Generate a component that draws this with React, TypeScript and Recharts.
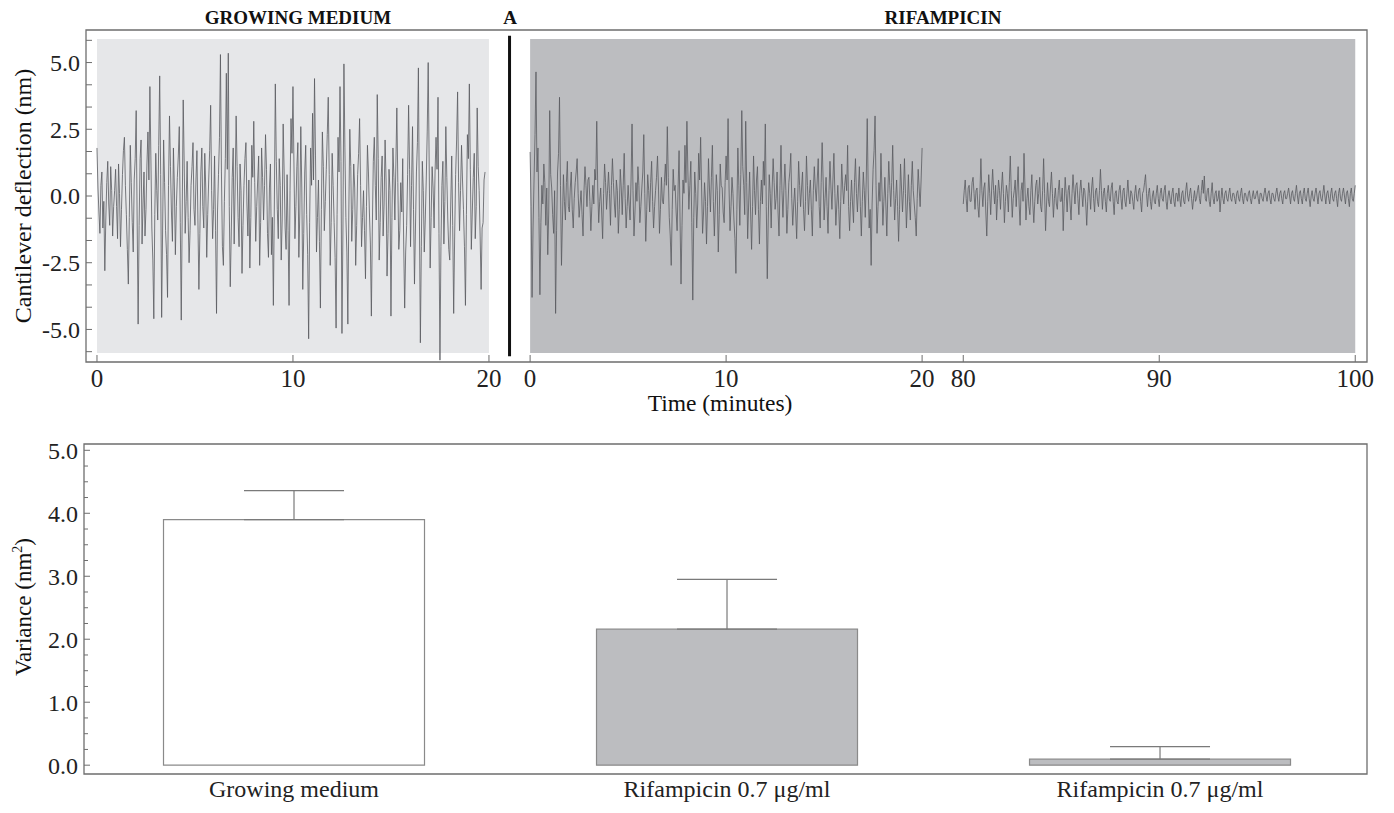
import React from 'react';
import {
  LineChart,
  Line,
  XAxis,
  YAxis,
  ReferenceArea,
  ReferenceLine,
  BarChart,
  Bar,
  Cell,
  ErrorBar,
} from 'recharts';

// minutes between two samples of the cantilever traces
const SAMPLE_STEP = 0.05;

// cantilever deflection (nm), growing medium, 0 - 19.8 min
const growingMedium = [
  1.8, 0.3, -0.6, -1.4, 0.4, 0.9, -1.2, -0.2, -2.8, -0.9, 0.5, 1.3, -0.3, -1.1, 1.1, 0.2, -1.5, -0.4, 0.2, 1.0,
  -0.4, -1.6, 1.2, 0.1, -1.9, -0.5, 0.8, 1.7, 2.2, 0.4, -0.7, -2.0, -3.3, -0.8, 1.9, 0.5, -1.0, -2.1, 0.6, 1.4,
  3.2, -0.9, -4.8, -1.1, 1.4, 2.1, -1.8, -0.3, 0.9, -1.5, -0.5, 1.2, 2.4, 0.6, 4.1, 1.5, -1.2, -2.4, -4.6, -0.7,
  1.6, 0.2, -0.9, 1.9, 4.5, 0.8, -4.55, -1.2, 2.1, 0.5, -1.3, -2.2, -3.8, 0.4, 3.0, 1.1, -0.6, -1.7, 1.8, 0.3,
  -2.2, -0.4, 0.7, 1.5, 2.6, -1.0, -4.65, -0.6, 3.6, 1.2, -1.4, -0.2, 1.3, -0.8, -2.5, -1.3, 0.4, 1.1, 2.0, -0.5,
  -1.1, 0.6, 1.7, -0.9, -3.5, -1.4, 0.9, 1.8, -0.4, -1.2, 1.6, 0.3, -2.3, -0.7, 0.6, 1.7, 3.4, 0.2, -1.6, -0.5,
  1.5, -1.3, -4.4, -0.6, 0.8, 2.2, 5.3, 0.9, -1.9, -2.6, -0.2, 1.4, 4.6, 1.0, 5.35, -0.4, -3.4, -1.5, 0.7, 1.8,
  -1.8, 0.3, 3.0, 1.1, -0.8, -1.9, 1.2, 0.2, -2.9, -1.1, 0.4, 1.4, 2.0, -0.3, -1.5, 0.6, -2.7, -0.8, 1.9, 0.7,
  2.8, 0.5, -1.7, -0.4, 0.6, 1.5, -2.6, -1.0, 1.8, 0.7, -0.9, 0.4, 2.3, 1.0, -1.4, -2.3, 0.3, 1.2, -2.2, -0.8,
  -4.1, -0.3, 4.2, 1.3, -0.5, -1.6, 1.4, 0.4, -2.4, -0.9, 2.7, 0.9, -1.2, -2.0, 0.8, -1.3, -4.1, 0.2, 2.9, 1.6,
  4.1, 1.2, -1.6, -0.4, 1.1, 2.0, -2.3, -0.6, 2.6, 0.3, -3.5, -1.4, 0.9, 1.9, -0.7, -2.2, -5.35, -1.0, 1.8, 0.4,
  3.1, 0.6, 4.4, 1.5, -2.1, -0.8, 0.6, -1.7, -4.2, -0.5, 2.4, 1.1, -1.3, -0.2, 1.0, 2.3, 3.7, 0.8, -2.6, -1.0,
  1.6, 0.4, -1.0, -2.3, -4.95, -0.7, 2.2, 0.9, 4.1, 1.3, -5.15, -1.2, 4.95, 1.8, -0.8, -2.1, -4.8, -0.6, 2.5, 1.1,
  -1.7, -0.5, 1.2, 0.3, -2.6, -1.1, 0.8, 1.6, 2.9, 0.4, -1.9, -0.8, 0.2, -1.3, -3.1, -0.4, 1.9, 0.9, -0.6, -1.8,
  -4.5, -1.2, 1.3, 2.2, 0.4, -0.9, 3.8, 1.4, -2.4, -1.0, 0.7, 1.5, -1.5, -0.3, 2.1, 0.6, -3.0, -1.4, 1.0, 0.2,
  -4.5, -0.8, 1.8, 0.7, -0.9, 1.2, 3.3, 0.5, -2.0, -1.3, 0.5, -0.6, 1.4, -1.8, -4.2, -2.1, -1.1, 0.8, 3.4, 1.0,
  -1.9, 0.4, 2.6, -0.5, -3.3, -1.2, 0.9, 2.0, 4.8, -0.6, -5.5, -1.9, 1.3, 0.2, -2.1, -0.9, 0.6, 2.4, 5.0, 1.2,
  -2.7, -0.8, 1.1, 0.3, -1.2, 0.9, 2.2, 1.0, 3.7, -1.4, -6.15, -1.9, 0.4, 1.3, -1.8, -0.2, 2.6, 0.7, -0.9, -2.0,
  -2.4, -0.3, 1.5, -1.1, -4.4, -1.5, 0.8, 2.1, 3.9, 0.5, -1.3, 0.2, 1.9, 0.6, -0.5, -1.9, -4.1, -0.7, 2.3, 1.4,
  4.2, 1.0, -2.0, -0.6, 0.7, 1.6, -1.6, -0.4, 3.3, 1.1, 0.2, -1.5, -3.5, -1.2, -1.0, 0.6, 0.9,
];

// rifampicin, 0 - 20 min
const rifampicinEarly = [
  1.65, -0.4, -3.8, -1.2, 0.6, 2.3, 4.65, 0.9, 1.8, -0.8, -3.7, -1.0, 0.4, -0.3, 1.2, 0.5, -1.1, 0.3, -2.2, -0.6,
  3.2, 0.8, 0.3, -0.7, -1.4, 0.2, -4.4, -1.3, 0.9, 1.6, 3.7, 0.4, -2.6, -0.9, 0.8, -0.2, -0.9, 0.5, 1.3, -0.4,
  -0.6, 0.3, 0.9, -0.5, -1.2, -0.1, 0.5, 0.9, 1.4, 0.1, -0.8, -0.3, 0.2, -0.7, -1.5, 0.2, 1.1, 0.4, -0.4, 0.6,
  0.7, -0.2, -1.3, -0.4, 0.4, -0.3, 1.0, 0.6, 2.8, 0.3, -1.0, -0.2, 0.3, -0.6, -1.6, 0.1, 1.2, 0.5, -0.5, 0.2,
  0.9, 0.1, -1.1, 0.4, 1.4, 0.5, -0.3, -0.8, 0.6, 0.2, -1.4, -0.5, 1.0, 0.3, -0.7, 0.4, 1.6, -0.1, -1.2, -0.4,
  0.4, -0.3, -0.9, 0.6, 2.7, 0.2, -1.5, -0.6, 0.5, -0.2, 1.1, 0.4, -1.0, -0.4, 0.3, 0.9, 2.3, 0.1, -1.7, -0.5,
  0.8, 0.2, -0.6, 0.5, 1.3, -0.2, -1.2, -0.4, 0.2, 0.7, 1.5, 0.3, -1.4, -0.5, 0.7, -0.2, -0.3, 0.5, 1.2, 0.4,
  2.6, 0.7, -0.8, -1.5, -2.6, -0.5, 1.0, 0.2, 0.4, -0.6, -1.3, 0.3, 1.7, -0.9, -3.3, -1.1, 0.6, 0.1, 1.9, 0.5,
  2.8, 0.9, -0.5, 0.4, 1.3, -1.0, -3.9, -0.8, 0.9, 0.1, -1.2, -0.3, 1.6, 0.6, 2.2, 0.3, -1.4, -0.6, 0.5, -0.2,
  -1.8, -0.4, 1.4, 0.3, -0.6, 0.7, 1.9, -0.2, -1.5, -0.3, 0.8, 0.2, -2.1, -0.7, 1.2, 0.4, 0.3, -0.6, -1.0, 0.5,
  1.5, 0.6, 2.9, 0.3, -1.3, -0.4, 0.7, 0.1, -0.9, -1.6, -2.9, -0.5, 1.8, 0.4, -1.1, 0.8, 3.2, 1.1, 0.4, -0.7,
  2.8, 0.5, -1.6, -0.3, 0.9, -0.6, -2.0, -0.4, 1.5, 0.2, -0.7, 0.6, 1.1, -0.5, -1.8, -0.2, 0.6, -0.3, 1.3, 0.4,
  2.7, -0.4, -3.1, -0.9, 0.8, 0.1, -1.2, 0.3, 1.4, 0.5, -0.5, -0.1, 0.9, -0.6, -1.5, 0.4, 1.9, 0.2, -0.8, 0.3,
  1.2, 0.2, -1.4, -0.5, 0.5, 0.9, 1.6, -0.1, -1.1, -0.3, 0.3, -0.6, -1.6, -0.2, 1.3, 0.4, -0.4, 0.3, 0.9, -0.5,
  -1.3, -0.2, 1.5, 0.4, -0.7, 0.1, 0.6, -0.5, -1.5, 0.2, 1.1, 0.3, -0.2, 0.6, 1.4, -0.4, -1.2, 0.5, 2.0, 0.6,
  -0.9, -0.1, 0.7, -0.4, -1.4, 0.2, 1.3, 0.3, -0.5, 0.6, 1.6, 0.1, -1.1, -0.3, 0.4, -0.5, -1.6, -0.2, 1.2, 0.3,
  -0.3, 0.4, 0.8, 0.2, 1.9, -0.4, -1.3, -0.2, 0.6, -0.3, -1.0, 0.5, 1.4, 0.1, -0.6, 0.3, 1.1, -0.4, -1.5, -0.2,
  0.9, 0.2, -0.8, 0.6, 2.9, 0.3, -1.2, -0.5, -2.6, -0.3, 1.0, 1.7, 3.0, 0.4, -1.4, -0.4, 0.5, -0.2, 1.6, 0.3,
  -1.1, -0.2, 0.7, -0.3, -1.5, 0.1, 1.3, 0.4, -0.4, 0.5, 1.9, 0.2, -0.9, -0.1, 0.6, -0.4, -1.7, -0.5, 1.2, 0.3,
  -0.6, 0.2, 1.4, 0.1, -1.2, -0.3, 0.8, -0.2, -0.9, 0.4, 1.3, 0.2, -0.3, -0.8, -1.5, -0.1, 1.0, 0.3, -0.4, 0.6, 1.8,
];

// rifampicin, 80 - 100 min
const rifampicinLate = [
  -0.3, 0.2, 0.6, -0.1, -0.6, 0.3, 0.4, -0.2, -0.2, 0.5, 0.7, 0.1, -0.5, 0.2, 0.3, -0.4, -0.8, 0.1, 1.4, 0.2,
  -0.4, 0.3, 0.5, -0.6, -1.5, -0.2, 0.8, 0.1, -0.7, 0.3, 1.0, 0.2, -0.3, 0.4, -0.9, -0.1, 0.6, 0.2, -0.5, 0.3,
  0.9, 0.1, -1.0, -0.2, 0.4, 0.1, -0.6, 0.5, 1.5, 0.2, -0.8, -0.1, 0.2, 0.6, -0.4, 0.3, 1.1, -0.3, -1.1, 0.2,
  0.5, -0.2, 1.6, 0.3, -0.9, -0.1, 0.3, -0.4, -0.7, 0.2, 0.8, -0.3, -1.0, -0.2, 0.4, 0.6, -0.3, 0.1, 0.7, -0.4,
  -0.6, 0.2, 1.4, 0.1, -1.3, -0.3, 0.5, -0.2, -0.4, 0.3, 0.9, 0.1, -0.8, -0.1, 0.3, -0.3, -0.5, 0.2, 0.6, -0.2,
  -0.2, 0.3, -1.3, -0.2, 0.7, 0.1, -0.6, 0.2, 0.4, -0.3, -0.9, 0.1, 0.8, 0.2, -0.3, 0.4, 0.5, -0.1, -0.7, 0.2,
  0.6, 0.1, -0.4, 0.3, 0.2, -0.3, -1.1, -0.2, 0.5, 0.1, -0.5, 0.3, 0.7, -0.1, -0.6, 0.2, 0.3, -0.2, -0.4, 0.2,
  1.0, 0.2, -0.5, 0.1, 0.3, -0.2, -0.6, 0.1, 0.4, -0.1, -0.2, 0.3, 0.5, -0.2, -0.7, 0.1, 0.2, -0.2, -0.3, 0.2,
  0.4, -0.1, -0.5, 0.2, 0.3, -0.2, -0.4, 0.1, 0.6, 0.0, -0.3, 0.2, 0.1, -0.2, -0.5, 0.1, 0.4, -0.1, -0.2, 0.2,
  0.3, -0.2, -0.6, 0.1, 0.2, 0.5, 0.8, 0.1, -0.4, 0.1, 0.3, -0.2, -0.5, 0.0, 0.2, -0.2, -0.3, 0.1, 0.4, -0.1,
  -0.4, 0.1, 0.3, -0.1, -0.2, 0.2, 0.4, -0.2, -0.5, 0.0, 0.2, -0.1, -0.3, 0.1, 0.3, -0.2, -0.4, 0.1, 0.1, -0.2,
  0.3, -0.1, -0.4, 0.1, 0.2, -0.2, -0.3, 0.2, 0.5, 0.0, -0.2, 0.1, 0.3, -0.1, -0.5, -0.1, 0.2, -0.2, -0.1, 0.2,
  0.4, -0.1, -0.3, 0.2, 0.6, 0.1, 0.75, -0.1, -0.2, 0.2, 0.3, -0.2, -0.4, 0.1, 0.5, -0.1, -0.3, 0.1, 0.2, -0.2,
  -0.1, 0.2, -0.6, -0.1, 0.3, -0.1, -0.3, 0.1, 0.2, -0.1, -0.2, 0.1, 0.3, -0.1, -0.2, 0.1, 0.1, -0.1, -0.3, 0.1,
  0.2, -0.1, -0.2, 0.1, 0.3, -0.1, -0.3, 0.1, 0.1, -0.1, -0.2, 0.1, 0.2, -0.1, -0.3, 0.0, 0.2, -0.1, -0.1, 0.1,
  0.2, -0.1, -0.3, 0.1, 0.1, -0.1, -0.2, 0.1, 0.3, 0.0, -0.2, 0.1, 0.2, -0.1, -0.3, 0.1, 0.1, -0.1, -0.2, 0.1,
  0.3, 0.0, -0.2, 0.1, 0.2, -0.1, -0.3, 0.1, 0.2, -0.1, -0.1, 0.1, 0.3, 0.0, -0.3, 0.1, 0.2, -0.1, -0.2, 0.1,
  0.4, 0.0, -0.3, 0.1, 0.2, -0.1, -0.3, 0.1, 0.3, -0.1, -0.2, 0.1, 0.3, -0.1, -0.4, 0.0, 0.2, -0.1, -0.2, 0.1,
  0.3, 0.0, -0.3, 0.1, 0.2, -0.1, -0.2, 0.1, 0.4, 0.0, -0.3, 0.1, 0.2, -0.1, -0.3, 0.1, 0.3, -0.1, -0.2, 0.1,
  0.2, -0.1, -0.4, 0.1, 0.3, -0.1, -0.2, 0.1, 0.3, 0.0, -0.3, 0.1, 0.2, -0.1, -0.4, 0.1, 0.3, -0.1, -0.2, 0.1, 0.4,
];

const timeTickValues = [0, 10, 20];
const lateTickValues = [80, 90, 100];
const deflectionTicks = [
  -5.833, -5, -4.167, -3.333, -2.5, -1.667, -0.833, 0,
  0.833, 1.667, 2.5, 3.333, 4.167, 5, 5.833,
];

// bar panel
const categories = ['Growing medium', 'Rifampicin 0.7 μg/ml', 'Rifampicin 0.7 μg/ml'];
const variances = [3.9, 2.16, 0.095];
const varianceErrors = [0.46, 0.79, 0.2];
const varianceTicks = [
  0, 0.25, 0.5, 0.75, 1, 1.25, 1.5, 1.75, 2, 2.25, 2.5,
  2.75, 3, 3.25, 3.5, 3.75, 4, 4.25, 4.5, 4.75, 5,
];

// the three traces share one x scale, each segment shifted along it
const RIF_EARLY_X0 = 22.1;
const RIF_LATE_X0 = 44.2;
const X_DOMAIN: [number, number] = [-0.56, 64.8];
const Y_DOMAIN: [number, number] = [-6.22, 6.22];

const FONT = '"Liberation Serif", "Times New Roman", serif';
const TRACE = '#595a60';
const AXIS = '#6e6e6e';

const growingData = growingMedium.map((v, i) => ({ t: i * SAMPLE_STEP, v }));
const rifEarlyData = rifampicinEarly.map((v, i) => ({ t: RIF_EARLY_X0 + i * SAMPLE_STEP, v }));
const rifLateData = rifampicinLate.map((v, i) => ({ t: RIF_LATE_X0 + i * SAMPLE_STEP, v }));

const timeTicks = [
  ...timeTickValues,
  ...timeTickValues.map((t) => t + RIF_EARLY_X0),
  ...lateTickValues.map((t) => t - 80 + RIF_LATE_X0),
];
const timeTickLabels = [...timeTickValues, ...timeTickValues, ...lateTickValues].map(String);

const barData = categories.map((name, i) => ({
  pos: i,
  name,
  variance: variances[i],
  err: [0, varianceErrors[i]],
}));
const barFills = ['#ffffff', '#bcbdc0', '#bcbdc0'];

// decorative minor ticks along the top of the bar panel
const topTicks = Array.from({ length: 37 }, (_, i) => i + 0.362);

const TimeTick = (props: any) => {
  const { x, y, index } = props;
  return (
    <g>
      <line x1={x} y1={y} x2={x} y2={y - 7} stroke={AXIS} strokeWidth={1} />
      <text x={x} y={y + 25} textAnchor="middle" fontFamily={FONT} fontSize={25} fill="#222">
        {timeTickLabels[index]}
      </text>
    </g>
  );
};

const DeflectionTick = (props: any) => {
  const { x, y, payload } = props;
  const v = payload.value;
  const major = Math.abs(v / 2.5 - Math.round(v / 2.5)) < 1e-3;
  return (
    <g>
      <line x1={x} y1={y} x2={x + 6} y2={y} stroke={AXIS} strokeWidth={1} />
      {major && (
        <text x={x - 6} y={y} dy="0.35em" textAnchor="end" fontFamily={FONT} fontSize={24} fill="#222">
          {v.toFixed(1)}
        </text>
      )}
    </g>
  );
};

const VarianceTick = (props: any) => {
  const { x, y, payload } = props;
  const v = payload.value;
  const major = Math.abs(v - Math.round(v)) < 1e-3;
  return (
    <g>
      <line x1={x} y1={y} x2={x + (major ? 6 : 4)} y2={y} stroke={AXIS} strokeWidth={1} />
      {major && (
        <text x={x - 6} y={y} dy="0.35em" textAnchor="end" fontFamily={FONT} fontSize={24} fill="#222">
          {v.toFixed(1)}
        </text>
      )}
    </g>
  );
};

const RightTick = (props: any) => {
  const { x, y } = props;
  return <line x1={x} y1={y} x2={x - 5} y2={y} stroke={AXIS} strokeWidth={1} />;
};

const TopTick = (props: any) => {
  const { x, y } = props;
  return <line x1={x} y1={y} x2={x} y2={y + 4} stroke={AXIS} strokeWidth={1} />;
};

const CategoryTick = (props: any) => {
  const { x, y, index } = props;
  return (
    <text x={x} y={y + 23} textAnchor="middle" fontFamily={FONT} fontSize={24} fill="#222">
      {categories[index]}
    </text>
  );
};

const App = () => {
  return (
    <div
      style={{
        position: 'absolute',
        left: 0,
        top: 0,
        width: 1394,
        height: 813,
        background: '#fff',
        fontFamily: FONT,
      }}
    >
      <div style={{ position: 'absolute', left: 0, top: 0 }}>
        <LineChart width={1394} height={400} margin={{ top: 30, right: 27, left: 0, bottom: 0 }}>
          <XAxis
            dataKey="t"
            type="number"
            domain={X_DOMAIN}
            ticks={timeTicks}
            interval={0}
            tick={TimeTick}
            tickLine={false}
            axisLine={false}
            tickSize={0}
            tickMargin={0}
            height={38}
            allowDataOverflow
          />
          <YAxis
            type="number"
            domain={Y_DOMAIN}
            ticks={deflectionTicks}
            interval={0}
            tick={DeflectionTick}
            tickLine={false}
            axisLine={false}
            tickSize={0}
            tickMargin={0}
            width={86}
            allowDataOverflow
          />
          <ReferenceArea x1={0} x2={20} y1={-5.88} y2={5.88} fill="#e6e7e9" fillOpacity={1} stroke="none" />
          <ReferenceArea
            x1={RIF_EARLY_X0}
            x2={RIF_LATE_X0 + 20}
            y1={-5.88}
            y2={5.88}
            fill="#bcbdc0"
            fillOpacity={1}
            stroke="none"
          />
          <ReferenceLine
            segment={[
              { x: 21.05, y: -6.0 },
              { x: 21.05, y: 6.0 },
            ]}
            stroke="#111"
            strokeWidth={3}
          />
          <Line data={growingData} dataKey="v" type="linear" stroke={TRACE} strokeWidth={0.8} dot={false} isAnimationActive={false} />
          <Line data={rifEarlyData} dataKey="v" type="linear" stroke={TRACE} strokeWidth={0.8} dot={false} isAnimationActive={false} />
          <Line data={rifLateData} dataKey="v" type="linear" stroke={TRACE} strokeWidth={0.8} dot={false} isAnimationActive={false} />
          <ReferenceArea
            x1={X_DOMAIN[0]}
            x2={X_DOMAIN[1]}
            y1={Y_DOMAIN[0]}
            y2={Y_DOMAIN[1]}
            fill="none"
            stroke={AXIS}
            strokeWidth={1.3}
          />
        </LineChart>
      </div>

      <div style={{ position: 'absolute', left: 0, top: 400 }}>
        <BarChart width={1394} height={413} data={barData} margin={{ top: 44, right: 27, left: 0, bottom: 0 }}>
          <XAxis
            dataKey="pos"
            type="number"
            domain={[-0.485, 2.478]}
            ticks={[0, 1, 2]}
            interval={0}
            tick={CategoryTick}
            tickLine={false}
            axisLine={false}
            tickSize={0}
            tickMargin={0}
            height={39}
            allowDataOverflow
          />
          <XAxis
            xAxisId="top"
            orientation="top"
            type="number"
            domain={[0, 36.594]}
            ticks={topTicks}
            interval={0}
            tick={TopTick}
            tickLine={false}
            axisLine={false}
            tickSize={0}
            tickMargin={0}
            height={0}
            allowDataOverflow
          />
          <YAxis
            type="number"
            domain={[-0.14, 5.1]}
            ticks={varianceTicks}
            interval={0}
            tick={VarianceTick}
            tickLine={false}
            axisLine={false}
            tickSize={0}
            tickMargin={0}
            width={84}
            allowDataOverflow
          />
          <YAxis
            yAxisId="right"
            orientation="right"
            type="number"
            domain={[-0.14, 5.1]}
            ticks={varianceTicks}
            interval={0}
            tick={RightTick}
            tickLine={false}
            axisLine={false}
            tickSize={0}
            tickMargin={0}
            width={0}
            allowDataOverflow
          />
          <Bar dataKey="variance" barSize={261} stroke="#8a8a8a" strokeWidth={1.2} isAnimationActive={false}>
            {barData.map((d, i) => (
              <Cell key={d.pos} fill={barFills[i]} />
            ))}
            <ErrorBar dataKey="err" direction="y" width={50} stroke="#7a7a7a" strokeWidth={1.2} />
          </Bar>
          <ReferenceArea
            x1={-0.485}
            x2={2.478}
            y1={-0.14}
            y2={5.1}
            fill="none"
            stroke={AXIS}
            strokeWidth={1.3}
          />
        </BarChart>
      </div>

      <svg
        width={1394}
        height={813}
        style={{ position: 'absolute', left: 0, top: 0, pointerEvents: 'none' }}
        fontFamily={FONT}
        fill="#111"
      >
        <text x={298} y={24} textAnchor="middle" fontWeight="bold" fontSize={19}>
          GROWING MEDIUM
        </text>
        <text x={510} y={24} textAnchor="middle" fontWeight="bold" fontSize={19}>
          A
        </text>
        <text x={943} y={24} textAnchor="middle" fontWeight="bold" fontSize={19}>
          RIFAMPICIN
        </text>
        <text x={720} y={411} textAnchor="middle" fontSize={23.5}>
          Time (minutes)
        </text>
        <text transform="translate(31,196) rotate(-90)" textAnchor="middle" fontSize={24}>
          Cantilever deflection (nm)
        </text>
        <text transform="translate(31,607) rotate(-90)" textAnchor="middle" fontSize={23}>
          Variance (nm
          <tspan fontSize={14} dy={-9}>
            2
          </tspan>
          <tspan dy={9}>)</tspan>
        </text>
      </svg>
    </div>
  );
};

export default App;
